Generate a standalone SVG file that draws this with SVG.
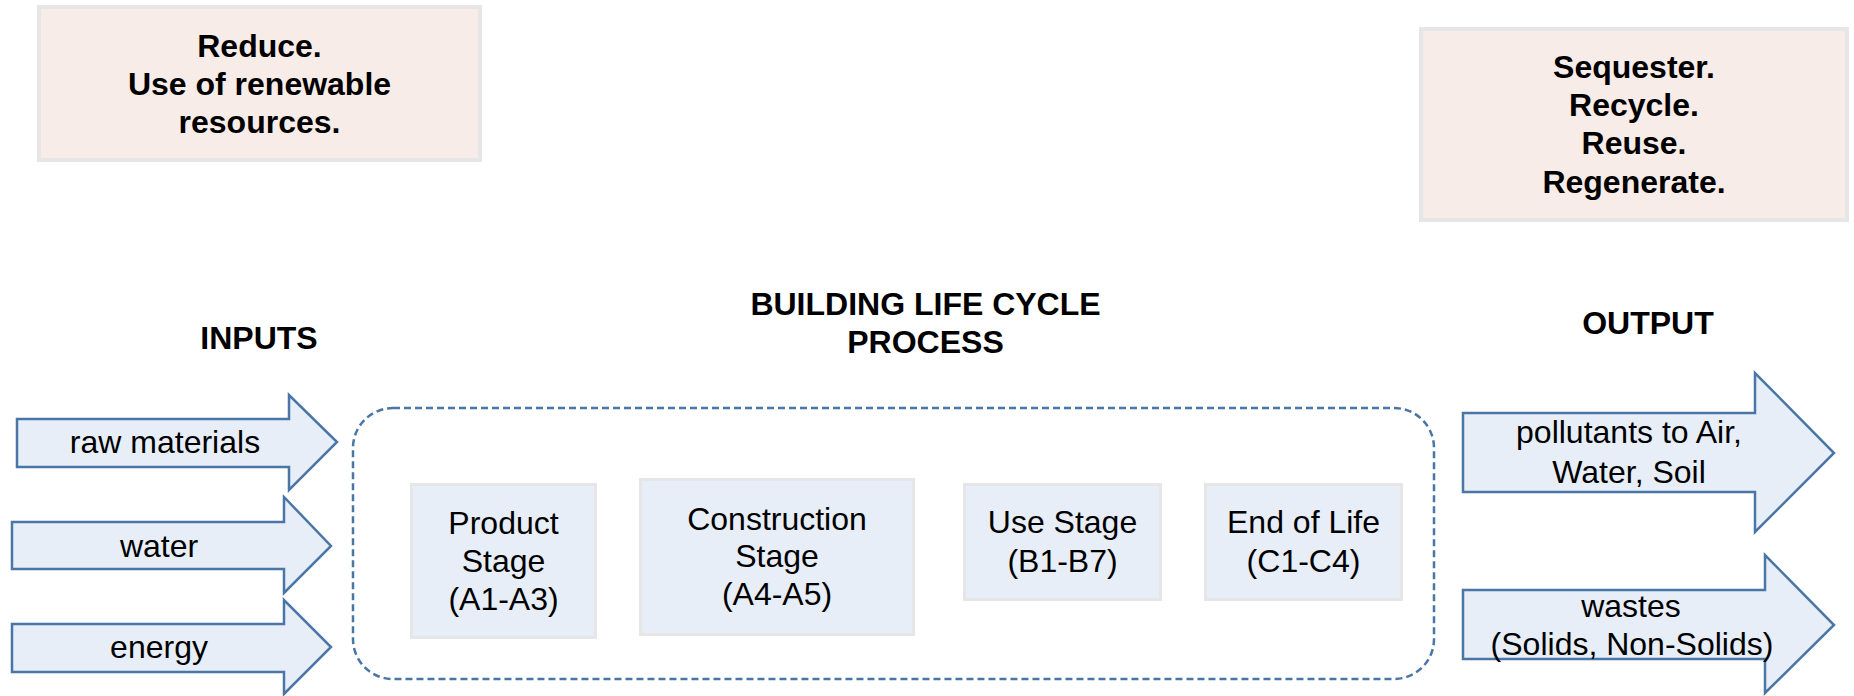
<svg xmlns="http://www.w3.org/2000/svg" width="1854" height="696" viewBox="0 0 1854 696">
<style>
text{font-family:"Liberation Sans",Arial,sans-serif;font-size:32px;fill:#000;text-anchor:middle}
.b{font-weight:bold}
.note{fill:#f8ece8;stroke:#e6e6e6;stroke-width:4}
.stage{fill:#e8eef7;stroke:#e6e6e6;stroke-width:3}
.arrow{fill:#e7eef8;stroke:#4a76a6;stroke-width:2.5;stroke-linejoin:miter}
.group{fill:none;stroke:#4a76a6;stroke-width:2.5;stroke-dasharray:7 4}
</style>
<rect width="1854" height="696" fill="#fff"/>
<g id="note-reduce">
<rect class="note" x="39" y="7" width="441" height="153"/>
<text class="b" x="259.5" y="57">Reduce.</text>
<text class="b" x="259.5" y="95">Use of renewable</text>
<text class="b" x="259.5" y="133">resources.</text>
</g>
<g id="note-sequester">
<rect class="note" x="1421" y="29" width="426" height="191"/>
<text class="b" x="1634" y="78">Sequester.</text>
<text class="b" x="1634" y="116">Recycle.</text>
<text class="b" x="1634" y="154">Reuse.</text>
<text class="b" x="1634" y="193">Regenerate.</text>
</g>
<g id="label-inputs"><text class="b" x="259" y="349">INPUTS</text></g>
<g id="label-process">
<text class="b" x="925.5" y="315">BUILDING LIFE CYCLE</text>
<text class="b" x="925.5" y="353">PROCESS</text>
</g>
<g id="label-output"><text class="b" x="1648" y="334">OUTPUT</text></g>
<g id="in-raw">
<polygon class="arrow" points="17,419 289,419 289,395 337,442 289,490 289,467 17,467"/>
<text x="165" y="453">raw materials</text>
</g>
<g id="in-water">
<polygon class="arrow" points="12,522 284,522 284,497 331,546 284,593 284,569 12,569"/>
<text x="159" y="557">water</text>
</g>
<g id="in-energy">
<polygon class="arrow" points="12,624 284,624 284,600 331,647 284,694 284,672 12,672"/>
<text x="159" y="658">energy</text>
</g>
<g id="process">
<rect class="group" x="353" y="408" width="1081" height="271" rx="40"/>
</g>
<g id="stage-product">
<rect class="stage" x="411.5" y="484.5" width="184" height="153"/>
<text x="503.5" y="534">Product</text>
<text x="503.5" y="572">Stage</text>
<text x="503.5" y="610">(A1-A3)</text>
</g>
<g id="stage-construction">
<rect class="stage" x="640.5" y="479.5" width="273" height="155"/>
<text x="777" y="530">Construction</text>
<text x="777" y="567">Stage</text>
<text x="777" y="605">(A4-A5)</text>
</g>
<g id="stage-use">
<rect class="stage" x="964.5" y="484.5" width="196" height="115"/>
<text x="1062.5" y="533">Use Stage</text>
<text x="1062.5" y="572">(B1-B7)</text>
</g>
<g id="stage-end">
<rect class="stage" x="1205.5" y="484.5" width="196" height="115"/>
<text x="1303.5" y="533">End of Life</text>
<text x="1303.5" y="572">(C1-C4)</text>
</g>
<g id="out-pollutants">
<polygon class="arrow" points="1463,413 1755,413 1755,373 1834,453 1755,532 1755,492 1463,492"/>
<text x="1629" y="443">pollutants to Air,</text>
<text x="1629" y="483">Water, Soil</text>
</g>
<g id="out-wastes">
<polygon class="arrow" points="1463,590 1765,590 1765,555 1834,625 1765,693 1765,659 1463,659"/>
<text x="1631" y="617">wastes</text>
<text x="1632" y="655">(Solids, Non-Solids)</text>
</g>
<g id="connectors"/>
</svg>
